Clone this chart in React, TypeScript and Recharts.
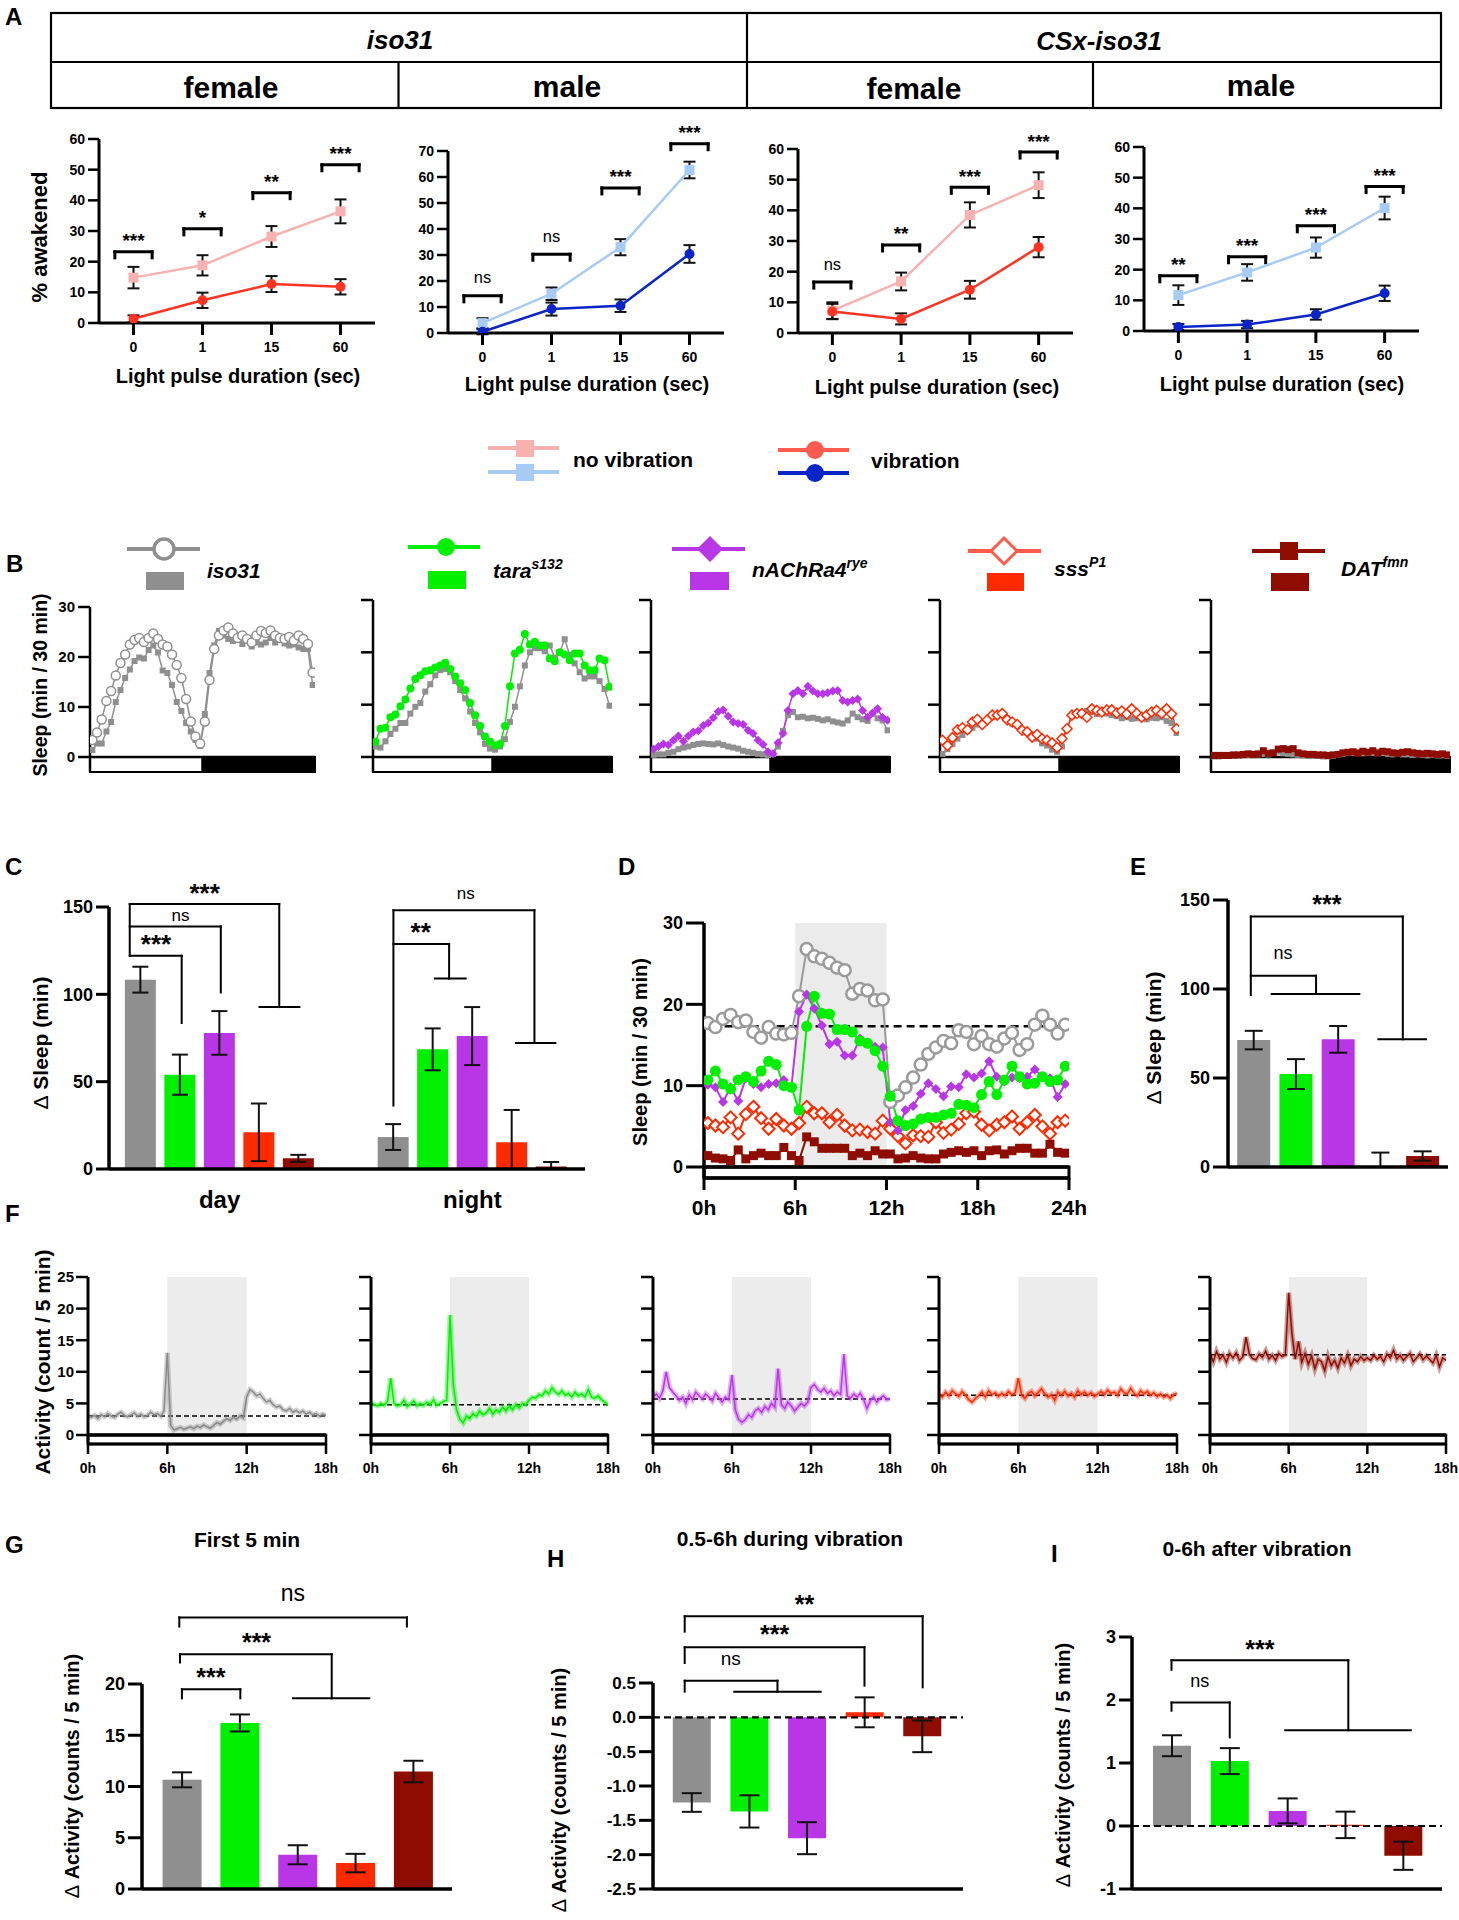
import React from 'react';
import {
  ComposedChart, Line, Bar, XAxis, YAxis, ErrorBar,
  ReferenceLine, ReferenceArea, ReferenceDot, Cell,
} from 'recharts';

// ================= DATA =================
// Panel A: % awakened vs light pulse duration
const pulseLabels = ['0', '1', '15', '60'];
const isoFemaleNoVib = [14.8, 18.8, 28.2, 36.4];
const isoFemaleNoVibErr = [3.5, 3.3, 3.4, 3.9];
const isoFemaleVib = [1.4, 7.4, 12.7, 11.8];
const isoFemaleVibErr = [1.1, 2.5, 2.6, 2.5];
const isoFemaleSig = ['***', '*', '**', '***'];
const isoFemaleSigY = [23.2, 30.7, 42.5, 51.6];

const isoMaleNoVib = [3.8, 15.1, 33.0, 62.7];
const isoMaleNoVibErr = [1.9, 2.4, 3.1, 3.2];
const isoMaleVib = [0.5, 9.2, 10.5, 30.4];
const isoMaleVibErr = [1.0, 2.5, 2.4, 3.4];
const isoMaleSig = ['ns', 'ns', '***', '***'];
const isoMaleSigY = [14.3, 30.3, 55.8, 72.8];

const csxFemaleNoVib = [7.3, 16.8, 38.5, 48.2];
const csxFemaleNoVibErr = [2.7, 2.9, 4.1, 4.2];
const csxFemaleVib = [7.0, 4.6, 14.1, 28.0];
const csxFemaleVibErr = [2.5, 1.8, 2.9, 3.3];
const csxFemaleSig = ['ns', '**', '***', '***'];
const csxFemaleSigY = [16.6, 28.7, 47.5, 59.0];

const csxMaleNoVib = [11.7, 19.1, 27.2, 40.1];
const csxMaleNoVibErr = [3.2, 2.7, 3.3, 3.7];
const csxMaleVib = [1.3, 2.1, 5.4, 12.3];
const csxMaleVibErr = [1.0, 1.2, 1.7, 2.5];
const csxMaleSig = ['**', '***', '***', '***'];
const csxMaleSigY = [18.0, 24.2, 34.3, 47.1];

// Panel B: sleep profiles (48 half-hour bins)
const profileCtrlIso = [1.4, 2.7, 2.7, 5.1, 7.0, 11.0, 13.4, 15.8, 17.5, 19.2, 19.9, 19.7, 21.4, 22.3, 20.9, 17.3, 16.8, 14.4, 11.0, 9.2, 6.8, 5.1, 3.4, 2.2,
  8.6, 16.8, 22.3, 25.2, 24.3, 23.6, 23.2, 23.8, 22.6, 23.2, 22.1, 22.9, 22.5, 22.9, 23.8, 22.9, 23.4, 22.7, 22.3, 22.5, 21.9, 21.6, 21.6, 14.4];
const profileIso = [3.4, 4.9, 7.5, 11.2, 13.2, 16.3, 18.8, 20.5, 22.5, 23.4, 23.8, 23.0, 23.8, 24.7, 23.6, 22.5, 22.1, 20.5, 18.4, 15.8, 11.6, 7.1, 4.1, 2.7,
  7.1, 15.4, 21.6, 24.3, 25.3, 25.9, 24.7, 23.8, 24.3, 23.6, 22.9, 24.3, 25.2, 24.8, 25.3, 24.3, 23.8, 23.6, 24.0, 23.3, 24.3, 23.6, 22.6, 16.9];
const profileCtrlTara = [2.0, 1.8, 3.0, 4.4, 5.4, 6.5, 6.5, 8.3, 9.6, 10.3, 12.5, 13.9, 15.6, 16.6, 16.8, 16.2, 14.5, 12.8, 11.2, 8.7, 6.5, 4.7, 2.5, 1.6,
  1.4, 2.0, 3.4, 6.7, 9.6, 13.5, 17.5, 20.0, 20.8, 20.8, 20.2, 21.3, 19.0, 20.0, 22.5, 19.5, 17.9, 16.2, 15.0, 15.4, 15.4, 14.5, 13.0, 9.8];
const profileTara = [2.9, 5.4, 5.6, 7.6, 8.1, 9.7, 11.0, 13.1, 14.9, 15.6, 16.4, 16.6, 17.1, 17.5, 18.0, 16.8, 15.4, 14.1, 12.8, 10.3, 8.0, 5.9, 3.9, 2.9,
  2.2, 2.5, 5.9, 13.5, 19.8, 20.5, 23.5, 21.5, 22.0, 21.3, 21.3, 18.8, 18.3, 20.0, 19.6, 18.5, 19.8, 19.8, 17.5, 16.6, 16.6, 18.8, 18.5, 13.4];
const profileCtrlNach = [0.4, 0.5, 0.5, 0.8, 1.0, 1.5, 1.8, 2.0, 2.3, 2.5, 2.6, 2.5, 2.4, 2.6, 2.3, 2.0, 1.8, 1.6, 1.2, 1.0, 0.8, 0.6, 0.5, 0.4,
  0.6, 2.0, 5.0, 8.0, 8.6, 7.6, 7.7, 7.4, 7.5, 7.3, 7.0, 7.2, 6.8, 6.6, 6.4, 7.0, 8.3, 7.6, 7.2, 6.9, 8.3, 7.4, 7.0, 5.1];
const profileNach = [1.5, 2.0, 2.5, 2.3, 3.2, 4.0, 3.0, 4.0, 4.8, 5.0, 6.0, 6.5, 7.5, 8.7, 9.0, 7.8, 6.7, 6.4, 6.2, 5.1, 4.5, 3.2, 2.4, 1.0,
  0.6, 2.7, 4.5, 8.9, 12.1, 12.7, 12.1, 13.5, 12.6, 12.1, 12.1, 12.3, 12.6, 12.7, 10.8, 10.5, 10.8, 11.1, 8.9, 7.6, 8.4, 9.2, 7.6, 7.0];
const profileCtrlSss = [0.6, 1.5, 2.5, 3.5, 4.2, 5.0, 5.6, 6.2, 6.6, 7.0, 7.6, 8.0, 8.1, 7.4, 6.4, 6.0, 5.2, 4.8, 4.2, 3.5, 2.6, 2.2, 1.4, 1.0,
  2.0, 5.5, 7.8, 8.4, 8.5, 8.8, 8.6, 8.2, 8.8, 8.3, 8.0, 7.8, 7.4, 7.6, 7.3, 7.4, 7.7, 7.2, 7.5, 7.4, 7.6, 6.9, 6.5, 4.6];
const profileSss = [3.2, 2.2, 3.7, 5.2, 5.6, 5.2, 6.7, 7.2, 6.2, 7.1, 8.0, 8.0, 8.3, 7.1, 6.7, 6.2, 5.1, 4.8, 3.8, 4.3, 3.5, 3.2, 2.7, 1.8,
  3.5, 5.4, 8.0, 8.3, 8.3, 7.6, 9.2, 8.9, 8.6, 9.0, 9.0, 8.4, 8.8, 8.2, 9.2, 8.3, 7.6, 8.0, 8.6, 8.9, 8.3, 9.2, 8.2, 5.4];
const profileCtrlDat = [0.1, 0.1, 0.2, 0.2, 0.2, 0.3, 0.3, 0.4, 0.3, 0.5, 0.6, 0.5, 0.8, 1.0, 0.7, 0.6, 0.5, 0.4, 0.3, 0.2, 0.2, 0.2, 0.1, 0.1,
  0.2, 0.4, 0.6, 0.8, 0.8, 1.0, 0.7, 0.9, 0.8, 0.7, 0.8, 0.6, 0.5, 0.6, 0.5, 0.5, 0.4, 0.5, 0.4, 0.3, 0.4, 0.3, 0.3, 0.2];
const profileDat = [0.3, 0.3, 0.3, 0.3, 0.4, 0.4, 0.5, 0.6, 0.5, 0.6, 1.2, 0.7, 0.8, 1.5, 1.6, 1.4, 1.6, 0.8, 0.6, 0.5, 0.5, 0.4, 0.4, 0.3,
  0.4, 0.5, 0.8, 0.9, 1.0, 0.7, 1.1, 0.9, 1.2, 0.8, 1.1, 1.0, 0.8, 0.7, 0.9, 1.0, 0.8, 0.7, 0.6, 0.7, 0.6, 0.5, 0.6, 0.4];

// Panel C: delta sleep day / night
const genoColors = ['#8f8f8f', '#00f000', '#b936e6', '#ff2a00', '#8e0c00'];
const cDay = [108.4, 54.0, 77.9, 21.0, 6.1];
const cDayErr = [7.4, 11.5, 12.5, 16.5, 2.0];
const cNight = [18.3, 68.5, 76.1, 15.3, 1.5];
const cNightErr = [7.4, 12.0, 16.6, [15.3, 18.5], [1.5, 2.5]];
const cSegs = [
  [0.525, 151.7, 0.525, 122.1],
  [0.525, 122.1, 1.84, 122.1], [1.84, 122.1, 1.84, 83.6],
  [0.525, 138.9, 2.83, 138.9], [2.83, 138.9, 2.83, 101.1],
  [0.525, 151.7, 4.31, 151.7], [4.31, 151.7, 4.31, 92.7], [3.81, 92.7, 4.82, 92.7],
  [7.2, 148.1, 7.2, 36.3],
  [7.2, 128.8, 8.61, 128.8], [8.61, 128.8, 8.61, 109], [8.25, 109, 9.03, 109],
  [7.2, 148.1, 10.77, 148.1], [10.77, 148.1, 10.77, 72.1], [10.3, 72.1, 11.3, 72.1],
];
const cNotes = [
  { x: 2.42, y: 160.9, t: '***' }, { x: 1.81, y: 144.7, t: 'ns' }, { x: 1.19, y: 131.7, t: '***' },
  { x: 7.89, y: 138.5, t: '**' }, { x: 9.03, y: 157, t: 'ns' },
];

// Panel D: sleep during vibration day (48 half-hour bins)
const dIso = [17.7, 17.2, 18.2, 18.7, 17.8, 18.0, 16.6, 15.9, 17.2, 16.4, 16.3, 16.5, 21.0, 26.8, 25.9, 25.6, 25.1, 24.5, 24.2, 21.3, 21.9, 21.7, 20.5, 20.6,
  8.0, 8.8, 9.8, 11.0, 12.6, 13.9, 14.7, 15.5, 15.2, 16.8, 16.6, 15.1, 16.1, 15.1, 14.8, 15.8, 16.5, 14.4, 15.1, 17.5, 18.6, 17.5, 16.4, 17.5];
const dPurple = [10.1, 9.8, 8.0, 9.8, 8.1, 10.9, 10.2, 9.8, 10.2, 10.3, 10.7, 9.8, 19.1, 21.2, 19.5, 17.4, 15.1, 15.4, 13.7, 13.7, 15.8, 15.2, 14.8, 14.7,
  5.5, 4.5, 7.0, 7.5, 9.0, 10.3, 9.6, 8.7, 9.9, 9.8, 11.4, 11.0, 11.5, 13.0, 11.1, 10.5, 11.0, 10.9, 11.1, 12.0, 11.1, 10.9, 8.6, 10.2];
const dGreen = [10.7, 11.8, 10.2, 9.6, 10.7, 11.1, 10.5, 11.8, 13.0, 12.6, 10.0, 9.8, 7.0, 17.3, 21.0, 18.9, 18.8, 16.9, 16.9, 16.6, 15.5, 15.2, 14.3, 12.4,
  8.7, 5.7, 5.1, 5.3, 5.9, 6.1, 6.1, 6.4, 6.6, 7.7, 7.6, 7.3, 8.9, 10.5, 8.9, 10.7, 12.4, 11.1, 10.2, 10.3, 11.1, 10.5, 10.7, 12.4];
const dSss = [5.4, 5.1, 4.9, 6.1, 4.1, 6.5, 7.4, 6.0, 4.7, 5.9, 5.1, 4.7, 5.4, 7.4, 6.6, 6.6, 5.5, 6.4, 5.1, 4.5, 4.6, 4.3, 4.1, 5.7,
  4.7, 3.8, 2.9, 3.9, 3.8, 3.7, 5.5, 4.2, 4.6, 5.3, 6.6, 6.8, 5.2, 4.5, 5.2, 5.5, 6.2, 4.7, 5.5, 6.4, 5.0, 4.1, 5.5, 5.7];
const dDat = [1.4, 1.1, 1.0, 0.8, 2.1, 1.0, 1.4, 1.7, 1.4, 1.4, 2.4, 1.4, 0.8, 3.7, 3.1, 2.3, 2.3, 2.3, 2.3, 1.4, 1.7, 1.4, 2.0, 1.6,
  1.6, 1.0, 1.1, 1.4, 1.1, 1.0, 1.0, 1.6, 1.8, 2.0, 1.8, 2.0, 1.4, 2.0, 2.1, 1.6, 2.0, 2.3, 2.3, 1.7, 1.7, 2.8, 1.8, 1.7];
const dBaseline = 17.3;

// Panel E
const eVals = [71.3, 52.2, 71.7, 0.4, 6.2];
const eErr = [5.2, 8.4, 7.5, [0.4, 7.7], 2.6];
const eSegs = [
  [0.54, 140.7, 0.54, 96.6],
  [0.54, 107.5, 2.085, 107.5], [2.085, 107.5, 2.085, 97.2], [1.035, 97.2, 3.11, 97.2],
  [0.54, 140.7, 4.14, 140.7], [4.14, 140.7, 4.14, 71.7], [3.56, 71.7, 4.69, 71.7],
];
const eNotes = [{ x: 2.34, y: 150.5, t: '***' }, { x: 1.30, y: 119.7, t: 'ns' }];

// Panel F: activity traces (15-min points, 0-18 h)
const fIso = [3.0, 2.8, 3.1, 2.6, 3.2, 2.9, 3.4, 3.0, 2.8, 3.3, 3.6, 3.1, 2.9, 3.2, 3.5, 3.0, 3.3, 2.9, 3.1, 3.6, 3.2, 3.4, 3.0, 3.8,
  13.0,
  1.5, 0.8, 1.0, 1.2, 0.9, 1.1, 1.3, 1.0, 1.4, 1.2, 1.6, 1.3, 1.1, 1.5, 2.0, 1.7, 2.2, 2.6, 2.3, 2.8, 2.5, 3.0, 2.7,
  6.0, 7.2, 6.8, 6.2, 6.5, 5.8, 5.2, 5.5, 4.8, 4.4, 4.6, 4.0, 3.8, 4.2, 3.6, 3.9, 3.5, 3.8, 3.3, 3.6, 3.2, 3.4, 3.0, 3.3, 3.1];
const fTara = [5.2, 4.8, 4.6, 5.0, 4.7, 5.3, 9.0, 5.0, 4.6, 4.8, 5.5, 4.5, 4.9, 5.4, 4.6, 5.0, 4.7, 5.2, 4.8, 5.6, 4.7, 5.0, 5.3, 5.5,
  19.0,
  8.0, 4.0, 2.5, 1.9, 3.0, 2.6, 3.4, 3.0, 3.8, 3.2, 3.5, 4.2, 3.3, 4.0, 3.6, 4.4, 3.8, 4.6, 4.0, 4.8, 4.3, 5.0, 4.8,
  5.5, 6.0, 5.8, 6.4, 6.2, 7.0, 6.5, 7.5, 6.8, 6.4, 7.0, 6.3, 6.6, 6.0, 6.8, 6.2, 6.5, 6.0, 7.2, 6.0, 5.8, 6.2, 5.6, 5.2, 4.8];
const fNach = [6.0, 6.5, 5.8, 7.0, 10.0, 7.5, 6.8, 6.2, 5.5, 6.0, 5.0, 6.4, 5.6, 6.8, 6.2, 5.7, 6.5, 6.0, 5.4, 6.6, 5.9, 5.2, 6.0, 5.6,
  9.5,
  4.0, 2.5, 2.0, 2.4, 3.2, 2.8, 3.8, 4.2, 3.6, 4.5, 4.0, 5.0, 4.4, 10.5, 4.8, 4.2, 5.2, 4.6, 3.8, 4.4, 5.0, 4.6, 5.2,
  7.5, 8.0, 7.2, 6.8, 7.4, 6.6, 7.0, 6.2, 6.8, 6.4, 12.8, 6.2, 5.8, 6.5, 6.0, 6.6, 5.6, 4.2, 5.4, 6.0, 5.2, 5.8, 6.2, 5.6, 5.7];
const fSss = [6.4, 6.0, 6.8, 6.2, 7.0, 6.5, 6.1, 6.9, 6.3, 5.6, 5.2, 5.8, 6.2, 6.8, 6.0, 7.0, 6.4, 6.7, 6.1, 6.6, 6.2, 6.9, 6.4, 6.6,
  9.0,
  6.3, 5.8, 6.6, 6.9, 6.2, 6.7, 7.3, 6.5, 6.0, 6.4, 5.5, 6.8, 6.3, 6.9, 6.2, 6.6, 6.0, 7.0, 6.4, 6.8, 6.3, 6.7, 6.1,
  6.5, 6.9, 6.4, 7.1, 6.6, 6.8, 6.3, 7.3, 6.7, 6.5, 7.4, 6.6, 6.2, 7.0, 6.5, 6.9, 6.3, 6.7, 6.1, 6.5, 6.0, 6.3, 5.8, 6.4, 6.6];
const fDat = [12.8, 11.6, 13.2, 12.0, 12.6, 11.5, 12.9, 12.2, 13.0, 11.8, 12.4, 15.5, 12.8, 12.1, 11.9, 12.8, 12.3, 13.3, 12.0, 12.6, 11.8, 12.9, 12.4, 12.7,
  22.5,
  16.0, 12.0, 14.8, 11.5, 12.9, 11.2, 12.5, 10.5, 12.0, 11.6, 10.2, 12.4, 11.0, 11.8, 10.6, 12.2, 11.4, 12.6, 11.0, 12.0, 11.6, 12.4, 11.8,
  12.2, 11.8, 12.6, 12.0, 12.4, 11.6, 12.8, 12.2, 13.4, 12.0, 12.6, 11.8, 12.4, 12.9, 11.6, 12.2, 12.8, 11.9, 12.5, 12.0, 11.4, 12.6, 10.8, 12.2, 11.8];
const fBaselines = [3.0, 4.8, 5.7, 6.3, 12.7];

// Panel G
const gVals = [10.65, 16.2, 3.34, 2.53, 11.46];
const gErr = [0.73, 0.83, 0.93, 0.9, 1.05];
const gSegs = [
  [0.69, 18.6, 0.69, 19.48], [0.69, 19.48, 1.70, 19.48], [1.70, 19.48, 1.70, 18.6],
  [0.657, 22.1, 0.657, 22.9], [0.657, 22.9, 3.28, 22.9], [3.28, 22.9, 3.28, 18.6], [2.61, 18.6, 3.93, 18.6],
  [0.645, 25.6, 0.645, 26.5], [0.645, 26.5, 4.58, 26.5], [4.58, 26.5, 4.58, 25.6],
];
const gNotes = [{ x: 1.19, y: 21.1, t: '***' }, { x: 1.98, y: 24.6, t: '***' }, { x: 2.61, y: 28.7, t: 'ns' }];

// Panel H
const hVals = [-1.24, -1.37, -1.76, 0.073, -0.277];
const hErr = [0.136, 0.235, 0.233, 0.218, 0.23];
const hSegs = [
  [0.55, 0.374, 0.55, 0.534], [0.55, 0.534, 2.16, 0.534], [2.16, 0.534, 2.16, 0.374], [1.41, 0.374, 2.91, 0.374],
  [0.55, 0.791, 0.55, 1.019], [0.55, 1.019, 3.67, 1.019], [3.67, 1.019, 3.67, 0.461],
  [0.55, 1.248, 0.55, 1.471], [0.55, 1.471, 4.68, 1.471], [4.68, 1.471, 4.68, 0.437],
];
const hNotes = [{ x: 1.35, y: 0.84, t: 'ns' }, { x: 2.11, y: 1.277, t: '***' }, { x: 2.63, y: 1.723, t: '**' }];

// Panel I
const iVals = [1.274, 1.03, 0.24, 0.018, -0.472];
const iErr = [0.166, 0.206, 0.198, 0.21, 0.224];
const iSegs = [
  [0.683, 1.83, 0.683, 1.96], [0.683, 1.96, 1.69, 1.96], [1.69, 1.96, 1.69, 1.406],
  [0.683, 2.48, 0.683, 2.63], [0.683, 2.63, 3.74, 2.63], [3.74, 2.63, 3.74, 1.52], [2.65, 1.52, 4.82, 1.52],
];
const iNotes = [{ x: 1.17, y: 2.29, t: 'ns' }, { x: 2.21, y: 2.89, t: '***' }];

// ================= STYLE =================
const BLACK = '#000';
const FONT = '"Liberation Sans", Arial, Helvetica, sans-serif';
const PINK = '#f7b2b0';
const LBLUE = '#a6cbf4';
const RED = '#ff3322';
const DBLUE = '#0a24c8';
const GRAY = '#8f8f8f';
const GREEN = '#00f000';
const PURPLE = '#b936e6';
const SSS = '#ff2a00';
const DAT = '#8e0c00';

const ax = (w: number) => ({ stroke: BLACK, strokeWidth: w });
const tk = (s: number) => ({ fill: BLACK, fontSize: s, fontWeight: 700 });

// ================= HELPERS =================
function Frame({ r, L, T, Rm, B, data, children }: any) {
  const width = r.x1 - r.x0 + L + Rm;
  const height = r.y1 - r.y0 + T + B;
  return (
    <div style={{ position: 'absolute', left: r.x0 - L, top: r.y0 - T, width, height }}>
      <ComposedChart width={width} height={height} data={data} margin={{ top: T, right: Rm, bottom: 0, left: 0 }}>
        {children}
      </ComposedChart>
    </div>
  );
}

const seg = (k: string, x1: number, y1: number, x2: number, y2: number, w = 2) => (
  <ReferenceLine key={k} segment={[{ x: x1, y: y1 }, { x: x2, y: y2 }]} stroke={BLACK} strokeWidth={w}
    strokeLinecap="square" ifOverflow="visible" />
);

const note = (k: string, x: number, y: number, t: string, size: number, dyPx = 0) => {
  const stars = t.indexOf('*') >= 0;
  return (
    <ReferenceDot key={k} x={x} y={y} r={0} ifOverflow="visible" fill="none" stroke="none"
      shape={(p: any) => (
        <text x={p.cx} y={p.cy + dyPx + (stars ? 0.55 : 0.27) * size} textAnchor="middle"
          fontSize={size} fontWeight={stars ? 700 : 400} fill={BLACK} fontFamily={FONT}>{t}</text>
      )} />
  );
};

const sqDot = (color: string, s: number) => (p: any) => (
  <rect key={`s${p.index}`} x={p.cx - s / 2} y={p.cy - s / 2} width={s} height={s} fill={color} />
);
const circDot = (color: string, rr: number, hollow = false, sw = 2) => (p: any) => (
  <circle key={`c${p.index}`} cx={p.cx} cy={p.cy} r={rr} fill={hollow ? '#fff' : color} stroke={color} strokeWidth={hollow ? sw : 0} />
);
const diamDot = (color: string, h: number, hollow = false, sw = 2) => (p: any) => (
  <polygon key={`d${p.index}`} points={`${p.cx},${p.cy - h} ${p.cx + h},${p.cy} ${p.cx},${p.cy + h} ${p.cx - h},${p.cy}`}
    fill={hollow ? '#fff' : color} stroke={color} strokeWidth={hollow ? sw : 0} />
);

// ================= PANEL A =================
function PulseChart({ r, yMax, yTicks, nv, nvE, v, vE, sig, sigY, light, dark }: any) {
  const data = pulseLabels.map((_, i) => ({ x: i, nv: nv[i], nvE: nvE[i], v: v[i], vE: vE[i] }));
  const drop = (6 * yMax) / (r.y1 - r.y0);
  const hw = 0.27;
  const ann: any[] = [];
  sigY.forEach((y: number, i: number) => {
    ann.push(seg(`h${i}`, i - hw, y, i + hw, y, 3));
    ann.push(seg(`l${i}`, i - hw, y, i - hw, y - drop, 3));
    ann.push(seg(`r${i}`, i + hw, y, i + hw, y - drop, 3));
    const ns = sig[i] === 'ns';
    ann.push(note(`t${i}`, i, y, sig[i], ns ? 16.5 : 19, ns ? -17 : -15));
  });
  return (
    <Frame r={r} L={45} T={60} Rm={10} B={45} data={data}>
      <XAxis type="number" dataKey="x" domain={[-0.5, 3.5]} ticks={[0, 1, 2, 3]} interval={0}
        tickFormatter={(t: number) => pulseLabels[t] ?? ''} height={45} axisLine={ax(3)} tickLine={ax(3)}
        tickSize={12} tickMargin={7} tick={tk(14)} allowDataOverflow />
      <YAxis type="number" domain={[0, yMax]} ticks={yTicks} interval={0} width={45} axisLine={ax(3)} tickLine={ax(2.5)}
        tickSize={11} tickMargin={3} tick={tk(14)} allowDataOverflow />
      {ann}
      <Line type="linear" dataKey="nv" stroke={light} strokeWidth={2.5} dot={sqDot(light, 10)} activeDot={false} isAnimationActive={false}>
        <ErrorBar dataKey="nvE" width={6} stroke="#111" strokeWidth={2} direction="y" />
      </Line>
      <Line type="linear" dataKey="v" stroke={dark} strokeWidth={2.5} dot={circDot(dark, 5)} activeDot={false} isAnimationActive={false}>
        <ErrorBar dataKey="vE" width={6} stroke="#111" strokeWidth={2} direction="y" />
      </Line>
    </Frame>
  );
}

// ================= PANEL B =================
function SleepProfile({ r, ctrl, mut, color, mutDot, showTicks, L }: any) {
  const data = ctrl.map((c: number, i: number) => ({ x: i, c, m: mut[i] }));
  const pxu = (r.zero - r.y0) / 30;
  const ld = (r.y1 - r.zero) / pxu;
  return (
    <Frame r={r} L={L} T={8} Rm={8} B={4} data={data}>
      <XAxis type="number" dataKey="x" domain={[-0.5, 47.5]} height={4} axisLine={false} tickLine={false} tick={false} allowDataOverflow />
      <YAxis type="number" domain={[-ld, 30]} ticks={[0, 10, 20, 30]} interval={0} width={L} axisLine={ax(2.5)} tickLine={ax(2.5)}
        tickSize={12} tickMargin={3} tick={tk(15)} tickFormatter={showTicks ? undefined : () => ''} allowDataOverflow />
      <ReferenceArea x1={-0.5} x2={23.5} y1={-ld} y2={0} fill="#fff" fillOpacity={1} stroke={BLACK} strokeWidth={2} />
      <ReferenceArea x1={23.5} x2={47.5} y1={-ld} y2={0} fill={BLACK} fillOpacity={1} stroke={BLACK} strokeWidth={2} />
      <ReferenceLine y={0} stroke={BLACK} strokeWidth={2.5} />
      <Line type="linear" dataKey="c" stroke={GRAY} strokeWidth={1.5} dot={sqDot(GRAY, 6)} activeDot={false} isAnimationActive={false} />
      <Line type="linear" dataKey="m" stroke={color} strokeWidth={1.5} dot={mutDot} activeDot={false} isAnimationActive={false} />
    </Frame>
  );
}

// ================= BAR PANELS =================
function BarPanel({ r, vals, errs, xs, xDom, barSize, yDom, yTicks, yFmt, L, T, Rm, B, segs, notes, starSize, nsSize,
  cap, dashedZero, xTicks, xFmt, tickSize, tickFont, axW }: any) {
  const data = vals.map((v: number, i: number) => ({ x: xs[i], v, e: errs[i], c: genoColors[i % 5] }));
  return (
    <Frame r={r} L={L} T={T} Rm={Rm} B={B} data={data}>
      <XAxis type="number" dataKey="x" domain={xDom} height={B} axisLine={ax(axW)} tickLine={false}
        ticks={xTicks} interval={0} tick={xTicks ? tk(24) : false} tickFormatter={xFmt} tickSize={8} tickMargin={14} allowDataOverflow />
      <YAxis type="number" domain={yDom} ticks={yTicks} interval={0} width={L} axisLine={ax(axW)} tickLine={ax(axW - 0.5)}
        tickSize={tickSize} tickMargin={3} tick={tk(tickFont)} tickFormatter={yFmt} allowDataOverflow />
      <Bar dataKey="v" barSize={barSize} isAnimationActive={false}>
        {data.map((d: any, i: number) => <Cell key={`b${i}`} fill={d.c} />)}
        <ErrorBar dataKey="e" width={cap} stroke="#111" strokeWidth={2} direction="y" />
      </Bar>
      {dashedZero ? <ReferenceLine y={0} stroke={BLACK} strokeWidth={2.2} strokeDasharray="7 4" /> : null}
      {segs.map((s: number[], i: number) => seg(`sg${i}`, s[0], s[1], s[2], s[3], 2))}
      {notes.map((n: any, i: number) => note(`nt${i}`, n.x, n.y, n.t, n.t === 'ns' ? nsSize : starSize))}
    </Frame>
  );
}

// ================= PANEL D =================
function DPanel() {
  const r = { x0: 704, x1: 1069, y0: 923, y1: 1178, zero: 1167 };
  const data = dIso.map((g, i) => ({ t: 0.25 + 0.5 * i, g, gr: dGreen[i], p: dPurple[i], s: dSss[i], d: dDat[i] }));
  const pxu = (r.zero - r.y0) / 30;
  const ld = (r.y1 - r.zero) / pxu;
  return (
    <Frame r={r} L={45} T={10} Rm={32} B={50} data={data}>
      <XAxis type="number" dataKey="t" domain={[0, 24]} ticks={[0, 6, 12, 18, 24]} interval={0}
        tickFormatter={(t: number) => `${t}h`} height={50} axisLine={ax(3.5)} tickLine={ax(3)} tickSize={12}
        tickMargin={10} tick={tk(21)} allowDataOverflow />
      <YAxis type="number" domain={[-ld, 30]} ticks={[0, 10, 20, 30]} interval={0} width={45} axisLine={ax(3.5)} tickLine={ax(3)}
        tickSize={18} tickMargin={3} tick={tk(18)} allowDataOverflow />
      <ReferenceArea x1={6} x2={12} y1={0} y2={30} fill="#ebebeb" fillOpacity={1} stroke="none" />
      <ReferenceArea x1={0} x2={24} y1={-ld} y2={0} fill="#fff" fillOpacity={1} stroke={BLACK} strokeWidth={3} />
      <ReferenceLine y={0} stroke={BLACK} strokeWidth={3.5} />
      <ReferenceLine segment={[{ x: 0.5, y: dBaseline }, { x: 23.5, y: dBaseline }]} stroke={BLACK} strokeWidth={2.5} strokeDasharray="8 5" />
      <Line type="linear" dataKey="g" stroke="#9a9a9a" strokeWidth={2} dot={circDot('#9a9a9a', 6, true, 2.5)} activeDot={false} isAnimationActive={false} />
      <Line type="linear" dataKey="s" stroke={SSS} strokeWidth={2} dot={diamDot(SSS, 6, true, 2)} activeDot={false} isAnimationActive={false} />
      <Line type="linear" dataKey="d" stroke={DAT} strokeWidth={2} dot={sqDot(DAT, 9)} activeDot={false} isAnimationActive={false} />
      <Line type="linear" dataKey="p" stroke={PURPLE} strokeWidth={2} dot={diamDot(PURPLE, 5)} activeDot={false} isAnimationActive={false} />
      <Line type="linear" dataKey="gr" stroke={GREEN} strokeWidth={2} dot={circDot(GREEN, 5.5)} activeDot={false} isAnimationActive={false} />
    </Frame>
  );
}

// ================= PANEL F =================
function FPanel({ r, vals, base, color, showY, L }: any) {
  const data = vals.map((v: number, k: number) => ({ t: k / 4, v }));
  const pxu = (r.zero - r.y0) / 25;
  const ld = (r.y1 - r.zero) / pxu;
  return (
    <Frame r={r} L={L} T={8} Rm={22} B={36} data={data}>
      <XAxis type="number" dataKey="t" domain={[0, 18]} ticks={[0, 6, 12, 18]} interval={0}
        tickFormatter={(t: number) => `${t}h`} height={36} axisLine={ax(3)} tickLine={ax(2.5)} tickSize={10}
        tickMargin={9} tick={tk(14)} allowDataOverflow />
      <YAxis type="number" domain={[-ld, 25]} ticks={[0, 5, 10, 15, 20, 25]} interval={0} width={L} axisLine={ax(3)} tickLine={ax(2.5)}
        tickSize={12} tickMargin={2} tick={tk(15)} tickFormatter={showY ? undefined : () => ''} allowDataOverflow />
      <ReferenceArea x1={6} x2={12} y1={0.3} y2={25} fill="#ececec" fillOpacity={1} stroke="none" />
      <ReferenceArea x1={0} x2={18} y1={-ld} y2={0} fill="#fff" fillOpacity={1} stroke={BLACK} strokeWidth={2.5} />
      <ReferenceLine y={0} stroke={BLACK} strokeWidth={3.5} />
      <ReferenceLine segment={[{ x: 0, y: base }, { x: 18, y: base }]} stroke={BLACK} strokeWidth={1.5} strokeDasharray="5 3" />
      <Line type="linear" dataKey="v" stroke={color} strokeOpacity={0.4} strokeWidth={5} dot={false} activeDot={false} isAnimationActive={false} />
      <Line type="linear" dataKey="v" stroke={color} strokeWidth={1.5} dot={false} activeDot={false} isAnimationActive={false} />
    </Frame>
  );
}

// ================= OVERLAY (labels, table, legends) =================
const VLabel = ({ cx, cy, size, children }: any) => (
  <text transform={`translate(${cx + 0.36 * size}, ${cy}) rotate(-90)`} textAnchor="middle" fontSize={size} fontWeight={700} fill={BLACK}>{children}</text>
);
const Letter = ({ x, y, t }: any) => <text x={x} y={y} fontSize={24} fontWeight={700} fill={BLACK}>{t}</text>;
const Delta = () => <tspan fontWeight={400}>Δ</tspan>;

function GeneLabel({ x, y, name, sup }: any) {
  return (
    <text x={x} y={y} fontSize={21} fontWeight={700} fontStyle="italic" fill={BLACK}>
      {name}
      {sup ? <tspan fontSize={14} dy={-9}>{sup}</tspan> : null}
    </text>
  );
}

function Overlay() {
  return (
    <svg width={1459} height={1920} style={{ position: 'absolute', left: 0, top: 0, pointerEvents: 'none' }} fontFamily={FONT}>
      {/* panel letters */}
      <Letter x={5} y={25} t="A" />
      <Letter x={6} y={572} t="B" />
      <Letter x={5} y={875} t="C" />
      <Letter x={618} y={875} t="D" />
      <Letter x={1130} y={875} t="E" />
      <Letter x={5} y={1222} t="F" />
      <Letter x={5} y={1553} t="G" />
      <Letter x={547} y={1567} t="H" />
      <Letter x={1051} y={1562} t="I" />

      {/* table */}
      <g stroke={BLACK} strokeWidth={2.2} fill="none">
        <rect x={51} y={13} width={1390} height={95} />
        <line x1={51} y1={62} x2={1441} y2={62} />
        <line x1={747} y1={13} x2={747} y2={108} />
        <line x1={398.5} y1={62} x2={398.5} y2={108} />
        <line x1={1093} y1={62} x2={1093} y2={108} />
      </g>
      <text x={400} y={49} textAnchor="middle" fontSize={26} fontWeight={700} fontStyle="italic">iso31</text>
      <text x={1099} y={50} textAnchor="middle" fontSize={26} fontWeight={700} fontStyle="italic">CSx-iso31</text>
      <text x={231} y={98} textAnchor="middle" fontSize={30} fontWeight={700}>female</text>
      <text x={567} y={97} textAnchor="middle" fontSize={30} fontWeight={700}>male</text>
      <text x={914} y={99} textAnchor="middle" fontSize={30} fontWeight={700}>female</text>
      <text x={1261} y={96} textAnchor="middle" fontSize={30} fontWeight={700}>male</text>

      {/* A axis titles */}
      <VLabel cx={39} cy={237} size={22}>% awakened</VLabel>
      <text x={238} y={383} textAnchor="middle" fontSize={20} fontWeight={700}>Light pulse duration (sec)</text>
      <text x={587} y={391} textAnchor="middle" fontSize={20} fontWeight={700}>Light pulse duration (sec)</text>
      <text x={937} y={394} textAnchor="middle" fontSize={20} fontWeight={700}>Light pulse duration (sec)</text>
      <text x={1282} y={391} textAnchor="middle" fontSize={20} fontWeight={700}>Light pulse duration (sec)</text>

      {/* A legend */}
      <line x1={488} y1={448} x2={559} y2={448} stroke={PINK} strokeWidth={4} />
      <rect x={516} y={440} width={18} height={17} fill={PINK} />
      <line x1={488} y1={472} x2={559} y2={472} stroke={LBLUE} strokeWidth={4} />
      <rect x={516} y={464} width={18} height={17} fill={LBLUE} />
      <text x={573} y={467} fontSize={21} fontWeight={700}>no vibration</text>
      <line x1={778} y1={450} x2={849} y2={450} stroke="#ff5a4f" strokeWidth={4} />
      <circle cx={815} cy={450} r={9} fill="#ff5a4f" />
      <line x1={778} y1={473} x2={849} y2={473} stroke={DBLUE} strokeWidth={4} />
      <circle cx={815} cy={473} r={9} fill={DBLUE} />
      <text x={871} y={468} fontSize={21} fontWeight={700}>vibration</text>

      {/* B legends */}
      <line x1={127} y1={549} x2={200} y2={549} stroke={GRAY} strokeWidth={4} />
      <circle cx={164} cy={549} r={10} fill="#fff" stroke={GRAY} strokeWidth={3.5} />
      <rect x={146} y={572} width={38} height={18} fill={GRAY} />
      <GeneLabel x={207} y={578} name="iso31" />

      <line x1={408} y1={547} x2={480} y2={547} stroke={GREEN} strokeWidth={4} />
      <circle cx={446} cy={547} r={9} fill={GREEN} />
      <rect x={428} y={571} width={38} height={18} fill={GREEN} />
      <GeneLabel x={493} y={578} name="tara" sup="s132" />

      <line x1={672} y1={549} x2={745} y2={549} stroke={PURPLE} strokeWidth={4} />
      <polygon points="710,536 723,549 710,562 697,549" fill={PURPLE} />
      <rect x={690} y={572} width={39} height={18} fill={PURPLE} />
      <GeneLabel x={752} y={577} name="nAChRa4" sup="rye" />

      <line x1={968} y1={551} x2={1041} y2={551} stroke="#ff5a4a" strokeWidth={4} />
      <polygon points="1004,538 1017,551 1004,564 991,551" fill="#fff" stroke="#ff5a4a" strokeWidth={3} />
      <rect x={987} y={573} width={37} height={18} fill={SSS} />
      <GeneLabel x={1054} y={576} name="sss" sup="P1" />

      <line x1={1252} y1={551} x2={1325} y2={551} stroke={DAT} strokeWidth={4} />
      <rect x={1280} y={542} width={18} height={18} fill={DAT} />
      <rect x={1271} y={573} width={38} height={18} fill={DAT} />
      <GeneLabel x={1341} y={576} name="DAT" sup="fmn" />

      <VLabel cx={40} cy={685} size={19.5}>Sleep (min / 30 min)</VLabel>

      {/* C, D, E labels */}
      <VLabel cx={40} cy={1043} size={21}><Delta /> Sleep (min)</VLabel>
      <VLabel cx={640} cy={1052} size={20}>Sleep (min / 30 min)</VLabel>
      <VLabel cx={1153} cy={1038} size={21}><Delta /> Sleep (min)</VLabel>

      {/* F label */}
      <VLabel cx={42} cy={1362} size={21}>Activity (count / 5 min)</VLabel>

      {/* G, H, I */}
      <text x={247} y={1547} textAnchor="middle" fontSize={21} fontWeight={700}>First 5 min</text>
      <VLabel cx={72} cy={1776} size={20}><Delta /> Activity (counts / 5 min)</VLabel>
      <text x={790} y={1546} textAnchor="middle" fontSize={21} fontWeight={700}>0.5-6h during vibration</text>
      <VLabel cx={559} cy={1790} size={20}><Delta /> Activity (counts / 5 min)</VLabel>
      <text x={1257} y={1556} textAnchor="middle" fontSize={21} fontWeight={700}>0-6h after vibration</text>
      <VLabel cx={1063} cy={1765} size={20}><Delta /> Activity (counts / 5 min)</VLabel>
    </svg>
  );
}

// ================= APP =================
export default function App() {
  const cVals = [...cDay, ...cNight];
  const cErrs = [...cDayErr, ...cNightErr];
  const cXs = cVals.map((_, i) => (i < 5 ? 0.8 + i : 7.2 + (i - 5)));
  const slots = (start: number) => [0, 1, 2, 3, 4].map((i) => start + i);
  return (
    <div style={{ position: 'absolute', left: 0, top: 0, width: 1459, height: 1920, background: '#fff', fontFamily: FONT, overflow: 'hidden' }}>
      {/* Panel A */}
      <PulseChart r={{ x0: 99, x1: 375, y0: 139, y1: 323 }} yMax={60} yTicks={[0, 10, 20, 30, 40, 50, 60]}
        nv={isoFemaleNoVib} nvE={isoFemaleNoVibErr} v={isoFemaleVib} vE={isoFemaleVibErr}
        sig={isoFemaleSig} sigY={isoFemaleSigY} light={PINK} dark={RED} />
      <PulseChart r={{ x0: 448, x1: 724, y0: 151, y1: 333 }} yMax={70} yTicks={[0, 10, 20, 30, 40, 50, 60, 70]}
        nv={isoMaleNoVib} nvE={isoMaleNoVibErr} v={isoMaleVib} vE={isoMaleVibErr}
        sig={isoMaleSig} sigY={isoMaleSigY} light={LBLUE} dark={DBLUE} />
      <PulseChart r={{ x0: 798, x1: 1073, y0: 149, y1: 333 }} yMax={60} yTicks={[0, 10, 20, 30, 40, 50, 60]}
        nv={csxFemaleNoVib} nvE={csxFemaleNoVibErr} v={csxFemaleVib} vE={csxFemaleVibErr}
        sig={csxFemaleSig} sigY={csxFemaleSigY} light={PINK} dark={RED} />
      <PulseChart r={{ x0: 1144, x1: 1419, y0: 147, y1: 331 }} yMax={60} yTicks={[0, 10, 20, 30, 40, 50, 60]}
        nv={csxMaleNoVib} nvE={csxMaleNoVibErr} v={csxMaleVib} vE={csxMaleVibErr}
        sig={csxMaleSig} sigY={csxMaleSigY} light={LBLUE} dark={DBLUE} />

      {/* Panel B */}
      <SleepProfile r={{ x0: 90, x1: 315, y0: 607, y1: 772, zero: 757 }} ctrl={profileCtrlIso} mut={profileIso}
        color={GRAY} mutDot={circDot(GRAY, 4.5, true, 1.5)} showTicks L={40} />
      <SleepProfile r={{ x0: 373, x1: 612, y0: 600, y1: 772, zero: 757 }} ctrl={profileCtrlTara} mut={profileTara}
        color={GREEN} mutDot={circDot(GREEN, 4)} L={16} />
      <SleepProfile r={{ x0: 651, x1: 890, y0: 600, y1: 772, zero: 757 }} ctrl={profileCtrlNach} mut={profileNach}
        color={PURPLE} mutDot={diamDot(PURPLE, 4.5)} L={16} />
      <SleepProfile r={{ x0: 940, x1: 1179, y0: 600, y1: 772, zero: 757 }} ctrl={profileCtrlSss} mut={profileSss}
        color={SSS} mutDot={diamDot(SSS, 5, true, 1.5)} L={16} />
      <SleepProfile r={{ x0: 1211, x1: 1450, y0: 600, y1: 772, zero: 757 }} ctrl={profileCtrlDat} mut={profileDat}
        color={DAT} mutDot={sqDot(DAT, 7)} L={16} />

      {/* Panel C */}
      <BarPanel r={{ x0: 109, x1: 585, y0: 907, y1: 1169 }} vals={cVals} errs={cErrs} xs={cXs} xDom={[0, 12.05]} barSize={31}
        yDom={[0, 150]} yTicks={[0, 50, 100, 150]} L={55} T={60} Rm={10} B={60} segs={cSegs} notes={cNotes}
        starSize={26} nsSize={17} cap={8} xTicks={[2.8, 9.2]} xFmt={(t: number) => (t < 6 ? 'day' : 'night')}
        tickSize={13} tickFont={18} axW={3.5} />

      {/* Panel D */}
      <DPanel />

      {/* Panel E */}
      <BarPanel r={{ x0: 1228, x1: 1448, y0: 900, y1: 1167 }} vals={eVals} errs={eErr} xs={slots(0.6)} xDom={[0, 5.21]} barSize={33}
        yDom={[0, 150]} yTicks={[0, 50, 100, 150]} L={55} T={40} Rm={8} B={18} segs={eSegs} notes={eNotes}
        starSize={25} nsSize={18} cap={9} tickSize={15} tickFont={18} axW={3.5} />

      {/* Panel F */}
      <FPanel r={{ x0: 88, x1: 326, y0: 1277, y1: 1444, zero: 1435 }} vals={fIso} base={fBaselines[0]} color="#8a8a8a" showY L={36} />
      <FPanel r={{ x0: 371, x1: 608, y0: 1277, y1: 1444, zero: 1435 }} vals={fTara} base={fBaselines[1]} color={GREEN} L={16} />
      <FPanel r={{ x0: 653, x1: 890, y0: 1277, y1: 1444, zero: 1435 }} vals={fNach} base={fBaselines[2]} color={PURPLE} L={16} />
      <FPanel r={{ x0: 939, x1: 1177, y0: 1277, y1: 1444, zero: 1435 }} vals={fSss} base={fBaselines[3]} color={SSS} L={16} />
      <FPanel r={{ x0: 1210, x1: 1446, y0: 1277, y1: 1444, zero: 1435 }} vals={fDat} base={fBaselines[4]} color={DAT} L={16} />

      {/* Panel G */}
      <BarPanel r={{ x0: 142, x1: 452, y0: 1684, y1: 1889 }} vals={gVals} errs={gErr} xs={slots(0.7)} xDom={[0, 5.36]} barSize={39}
        yDom={[0, 20]} yTicks={[0, 5, 10, 15, 20]} L={50} T={110} Rm={10} B={18} segs={gSegs} notes={gNotes}
        starSize={25} nsSize={23} cap={10} tickSize={14} tickFont={18} axW={3.5} />

      {/* Panel H */}
      <BarPanel r={{ x0: 653, x1: 963, y0: 1683, y1: 1889 }} vals={hVals} errs={hErr} xs={slots(0.67)} xDom={[0, 5.38]} barSize={38}
        yDom={[-2.5, 0.5]} yTicks={[-2.5, -2, -1.5, -1, -0.5, 0, 0.5]} yFmt={(t: number) => t.toFixed(1)}
        L={50} T={110} Rm={10} B={18} segs={hSegs} notes={hNotes}
        starSize={25} nsSize={19} cap={10} dashedZero tickSize={14} tickFont={17} axW={3.5} />

      {/* Panel I */}
      <BarPanel r={{ x0: 1132, x1: 1442, y0: 1637, y1: 1889 }} vals={iVals} errs={iErr} xs={slots(0.69)} xDom={[0, 5.36]} barSize={38}
        yDom={[-1, 3]} yTicks={[-1, 0, 1, 2, 3]} L={40} T={40} Rm={12} B={18} segs={iSegs} notes={iNotes}
        starSize={25} nsSize={18} cap={10} dashedZero tickSize={13} tickFont={18} axW={3.5} />

      <Overlay />
    </div>
  );
}
